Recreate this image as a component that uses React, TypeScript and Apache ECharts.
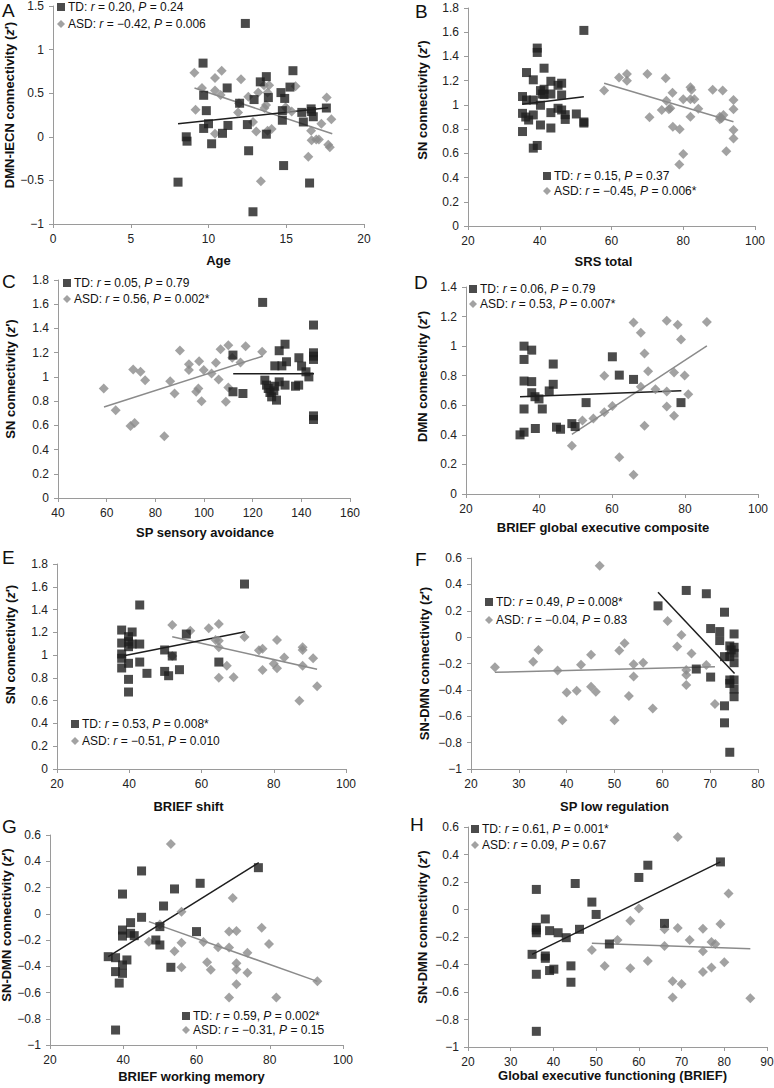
import React, { useEffect, useRef } from "react";
import * as echarts from "echarts";

const FONT = '"Liberation Sans", Arial, Helvetica, sans-serif';
const TD_COLOR = "#1e1e1e";
const ASD_COLOR = "#8b8b8b";
const AXIS_COLOR = "#9a9a9a";

// ---------- Panel A: Age vs DMN-IECN ----------
const A_TD = [[8.04,-0.52],[8.57,0.0],[8.62,-0.05],[9.65,0.845],[9.69,0.476],[9.86,0.30],[9.69,0.096],[10.0,0.15],[10.2,-0.08],[10.9,0.04],[11.25,0.13],[11.2,0.56],[12.0,0.385],[12.37,1.30],[12.5,0.14],[12.58,-0.16],[12.86,-0.86],[12.93,0.427],[13.33,0.63],[13.72,0.69],[13.85,0.45],[13.72,0.03],[14.66,0.507],[14.75,0.19],[14.9,0.44],[14.83,-0.33],[14.75,0.30],[15.24,0.57],[15.43,0.758],[16.0,0.28],[16.1,0.17],[16.6,0.32],[16.63,0.29],[16.74,0.23],[16.5,-0.53],[17.58,0.33]];
const A_ASD = [[9.09,0.735],[9.17,0.31],[9.58,0.56],[10.42,0.675],[10.42,0.53],[10.42,0.035],[10.78,0.48],[10.85,0.758],[11.96,0.385],[12.09,0.66],[11.9,0.28],[12.56,0.46],[12.86,0.17],[13.07,0.06],[13.2,0.507],[13.37,-0.51],[13.57,0.59],[13.6,0.33],[13.7,0.366],[13.8,0.507],[13.9,0.59],[13.8,0.07],[14.06,0.09],[14.96,0.34],[15.05,0.32],[15.35,0.29],[15.6,0.58],[16.42,-0.23],[16.6,0.07],[16.63,-0.04],[16.93,-0.03],[17.1,-0.03],[17.26,0.15],[17.6,0.45],[17.7,-0.09],[17.9,0.20],[17.8,-0.12]];
const A_TD_FIT = [[8.04,0.149],[17.7,0.332]];
const A_ASD_FIT = [[9.1,0.56],[17.96,0.035]];

// ---------- Panel B: SRS total vs SN ----------
const B_TD = [[35.2,1.069],[35.2,0.93],[35.2,0.78],[36.1,0.90],[36.3,1.04],[36.3,1.267],[36.9,0.875],[38.2,1.207],[38.2,1.04],[38.2,0.917],[38.2,0.643],[39.3,0.665],[39.3,1.469],[39.3,1.433],[40.2,1.118],[40.2,0.997],[40.2,0.834],[40.7,1.09],[41.2,1.303],[41.2,1.129],[41.2,1.085],[43.1,1.195],[43.1,1.09],[43.1,0.936],[43.1,0.809],[45.1,1.162],[45.1,0.972],[46.1,1.179],[46.1,1.082],[46.1,0.958],[47.1,0.919],[47.1,0.88],[50.2,0.925],[52.3,1.615],[52.3,0.859],[52.3,0.85]];
const B_ASD = [[57.95,1.118],[62.1,1.226],[64.3,1.256],[64.3,1.20],[70.0,1.256],[70.6,0.897],[74.0,0.958],[75.1,1.22],[75.3,1.035],[76.0,0.964],[76.4,0.972],[77.0,1.10],[77.1,0.82],[79.0,0.798],[78.9,0.508],[80.0,0.594],[80.0,1.046],[82.0,1.146],[82.3,1.124],[82.0,1.046],[83.1,1.046],[82.0,0.903],[84.2,0.969],[88.2,1.124],[91.0,1.118],[90.2,0.903],[90.7,0.889],[91.2,0.917],[90.2,0.881],[94.0,1.04],[94.0,0.964],[94.0,0.792],[94.0,0.723],[92.0,0.618]];
const B_TD_FIT = [[35.1,1.005],[52.3,1.068]];
const B_ASD_FIT = [[57.95,1.179],[94.0,0.861]];

// ---------- Panel C: SP sensory avoidance vs SN ----------
const C_TD = [[111.9,1.18],[111.9,0.877],[116.0,0.863],[124.1,1.615],[125.0,0.973],[125.7,0.932],[126.4,0.904],[127.1,0.871],[127.8,0.835],[128.7,0.885],[129.1,0.923],[129.1,1.091],[129.8,0.808],[130.9,1.216],[130.9,0.959],[132.0,1.091],[133.3,1.27],[133.3,0.932],[133.9,1.125],[137.6,0.923],[138.9,0.932],[139.0,1.158],[140.1,1.089],[141.9,1.042],[143.1,1.0],[145.0,1.428],[145.0,1.199],[145.0,1.171],[145.0,1.144],[145.0,0.678],[145.0,0.648]];
const C_ASD = [[58.8,0.904],[63.7,0.725],[69.8,0.595],[70.9,1.061],[71.5,0.62],[73.9,1.042],[75.8,0.973],[83.7,0.51],[86.1,0.965],[87.9,0.863],[90.1,1.218],[93.8,1.105],[93.8,1.056],[96.8,0.877],[97.7,0.904],[98.0,1.13],[99.0,0.799],[99.9,1.056],[103.1,1.028],[104.9,1.116],[106.0,0.978],[106.8,1.229],[110.0,1.262],[110.0,0.912],[109.0,0.794],[111.6,1.158],[115.0,1.119],[117.1,1.254],[123.9,1.207]];
const C_TD_FIT = [[112.0,1.025],[145.2,1.025]];
const C_ASD_FIT = [[58.9,0.752],[124.1,1.171]];

// ---------- Panel D: BRIEF GEC vs DMN ----------
const D_TD = [[34.8,0.40],[35.9,1.0],[35.9,0.91],[35.9,0.764],[35.9,0.575],[35.9,0.418],[38.0,0.973],[38.0,0.76],[38.0,0.685],[38.9,0.658],[39.0,0.443],[40.0,0.643],[40.9,0.575],[42.8,0.697],[43.9,0.879],[43.9,0.742],[44.8,0.452],[45.9,0.438],[49.0,0.476],[49.9,0.456],[52.9,0.618],[60.1,0.928],[62.0,0.804],[65.9,0.775],[78.9,0.618]];
const D_ASD = [[49.0,0.326],[51.9,0.497],[54.9,0.51],[57.9,0.553],[57.9,0.80],[60.1,0.596],[62.0,0.249],[65.9,1.16],[65.9,0.13],[67.9,1.09],[67.9,0.726],[68.9,0.951],[68.9,0.461],[69.9,0.831],[71.9,0.708],[75.0,1.171],[75.0,0.694],[75.0,0.591],[77.0,0.822],[77.0,0.53],[78.0,1.144],[78.9,1.045],[79.9,0.802],[80.9,0.674],[86.0,1.164]];
const D_TD_FIT = [[34.8,0.658],[79.0,0.699]];
const D_ASD_FIT = [[49.0,0.404],[86.0,1.002]];

// ---------- Panel E: BRIEF shift vs SN ----------
const E_TD = [[37.9,1.22],[37.9,1.106],[37.9,1.01],[37.9,0.972],[37.9,0.887],[39.8,1.162],[39.8,1.118],[39.8,1.074],[39.8,0.928],[39.8,0.787],[39.8,0.676],[40.8,1.203],[40.8,1.097],[42.9,1.44],[42.9,1.097],[42.9,0.939],[44.9,0.84],[49.8,1.045],[49.8,0.857],[50.9,0.819],[51.9,0.992],[53.9,0.872],[55.8,1.185],[64.8,0.939],[71.9,1.624]];
const E_ASD = [[51.9,1.264],[51.9,0.992],[56.9,1.215],[62.0,1.235],[63.9,1.133],[64.8,1.273],[64.8,1.127],[64.8,1.068],[64.8,0.802],[67.0,0.907],[68.9,0.805],[71.9,1.159],[75.9,1.042],[76.9,1.056],[76.9,0.869],[80.0,0.925],[80.9,0.884],[80.9,1.133],[82.9,0.98],[87.1,0.60],[88.0,1.068],[88.0,1.045],[88.0,0.907],[90.9,0.972],[92.0,0.726]];
const E_TD_FIT = [[38.5,0.995],[72.1,1.205]];
const E_ASD_FIT = [[51.9,1.162],[92.0,0.875]];

// ---------- Panel F: SP low regulation vs SN-DMN ----------
const F_TD = [[59.1,0.237],[65.0,0.354],[67.1,-0.242],[69.2,0.329],[70.1,0.065],[70.1,-0.303],[72.0,0.042],[72.0,-0.026],[73.0,0.189],[73.0,-0.148],[73.0,-0.521],[73.0,-0.65],[74.1,-0.067],[74.1,-0.148],[74.1,-0.325],[74.1,-0.351],[74.1,-0.873],[74.4,-0.097],[75.0,0.024],[75.0,-0.077],[75.0,-0.123],[75.0,-0.194],[75.0,-0.325],[75.0,-0.394],[75.0,-0.452]];
const F_ASD = [[25.0,-0.229],[33.0,-0.186],[34.1,-0.097],[38.1,-0.254],[39.1,-0.63],[40.0,-0.419],[42.1,-0.407],[43.0,-0.209],[45.1,-0.133],[45.1,-0.376],[46.1,-0.414],[46.9,0.542],[50.0,-0.63],[51.0,-0.102],[52.1,-0.047],[53.0,-0.447],[54.0,-0.206],[54.0,-0.298],[56.0,-0.194],[58.0,-0.541],[61.1,0.123],[63.1,-0.072],[64.0,0.017],[65.0,-0.249],[65.0,-0.287],[65.0,-0.363],[66.1,-0.125],[69.2,-0.211],[71.0,-0.508]];
const F_TD_FIT = [[59.1,0.341],[75.1,-0.275]];
const F_ASD_FIT = [[25.0,-0.267],[71.0,-0.224]];

// ---------- Panel G: BRIEF working memory vs SN-DMN ----------
const G_TD = [[35.9,-0.327],[37.9,-0.335],[37.9,-0.441],[37.9,-0.886],[38.9,-0.528],[39.8,0.15],[39.8,-0.124],[39.8,-0.17],[39.8,-0.39],[39.8,-0.454],[41.0,-0.352],[42.0,-0.068],[42.0,-0.149],[43.0,-0.167],[45.0,0.326],[45.0,-0.027],[48.9,-0.2],[50.0,-0.238],[50.0,-0.098],[51.0,0.059],[53.0,-0.408],[54.0,0.189],[60.0,-0.136],[61.0,0.232],[76.9,0.351]];
const G_ASD = [[47.0,-0.213],[50.0,-0.081],[53.0,0.531],[54.0,-0.286],[55.9,0.016],[55.9,-0.22],[55.9,-0.408],[61.9,-0.215],[62.9,-0.37],[63.9,-0.426],[65.9,-0.256],[68.9,-0.136],[68.9,-0.258],[68.9,-0.639],[69.9,0.12],[70.9,-0.131],[70.9,-0.378],[70.9,-0.424],[70.9,-0.538],[73.9,-0.297],[73.9,-0.449],[77.8,-0.106],[79.8,-0.23],[81.8,-0.639],[93.0,-0.515]];
const G_TD_FIT = [[35.9,-0.327],[77.0,0.389]];
const G_ASD_FIT = [[47.0,-0.06],[93.0,-0.515]];

// ---------- Panel H: BRIEF GEC vs SN-DMN ----------
const H_TD = [[35.0,-0.326],[36.0,0.146],[36.0,-0.13],[36.0,-0.149],[36.0,-0.169],[36.0,-0.471],[36.0,-0.886],[38.1,-0.069],[38.1,-0.338],[38.1,-0.355],[39.1,-0.154],[39.1,-0.444],[40.1,-0.434],[41.1,-0.169],[43.0,-0.205],[45.1,0.189],[44.1,-0.41],[44.1,-0.529],[46.1,-0.144],[49.0,0.054],[50.0,-0.036],[53.1,-0.251],[60.0,0.233],[62.1,0.322],[66.0,-0.101],[79.1,0.346]];
const H_ASD = [[49.0,-0.294],[52.0,-0.41],[55.0,-0.222],[58.0,-0.082],[58.0,-0.427],[60.0,0.008],[62.1,-0.374],[66.0,-0.144],[66.0,-0.265],[67.9,-0.521],[67.9,-0.64],[69.1,0.527],[69.1,-0.135],[70.0,-0.541],[71.9,-0.222],[75.0,-0.14],[75.0,-0.304],[75.0,-0.454],[77.0,-0.236],[77.0,-0.422],[77.9,-0.251],[79.1,-0.106],[80.0,-0.384],[81.0,0.117],[86.1,-0.645]];
const H_TD_FIT = [[35.0,-0.326],[79.1,0.346]];
const H_ASD_FIT = [[49.0,-0.246],[86.1,-0.285]];

// Labels
const LETTERS = ["A", "B", "C", "D", "E", "F", "G", "H"];
const TD_LABELS = [
  "TD: r = 0.20, P = 0.24",
  "TD: r = 0.15, P = 0.37",
  "TD: r = 0.05, P = 0.79",
  "TD: r = 0.06, P = 0.79",
  "TD: r = 0.53, P = 0.008*",
  "TD: r = 0.49, P = 0.008*",
  "TD: r = 0.59, P = 0.002*",
  "TD: r = 0.61, P = 0.001*",
];
const ASD_LABELS = [
  "ASD: r = \u22120.42, P = 0.006",
  "ASD: r = \u22120.45, P = 0.006*",
  "ASD: r = 0.56, P = 0.002*",
  "ASD: r = 0.53, P = 0.007*",
  "ASD: r = \u22120.51, P = 0.010",
  "ASD: r = \u22120.04, P = 0.83",
  "ASD: r = \u22120.31, P = 0.15",
  "ASD: r = 0.09, P = 0.67",
];
const X_NAMES = [
  "Age",
  "SRS total",
  "SP sensory avoidance",
  "BRIEF global executive composite",
  "BRIEF shift",
  "SP low regulation",
  "BRIEF working memory",
  "Global executive functioning (BRIEF)",
];
const Y_NAMES = [
  "DMN-IECN connectivity ({i|z}\u2032)",
  "SN connectivity ({i|z}\u2032)",
  "SN connectivity ({i|z}\u2032)",
  "DMN connectivity ({i|z}\u2032)",
  "SN connectivity ({i|z}\u2032)",
  "SN-DMN connectivity ({i|z}\u2032)",
  "SN-DMN connectivity ({i|z}\u2032)",
  "SN-DMN connectivity ({i|z}\u2032)",
];
// axis ranges: [min, max, interval]
const X_RANGES = [[0,20,5],[20,100,20],[40,160,20],[20,100,20],[20,100,20],[20,80,10],[20,100,20],[20,90,10]];
const Y_RANGES = [[-1,1.5,0.5],[0,1.8,0.2],[0,1.8,0.2],[0,1.4,0.2],[0,1.8,0.2],[-1,0.6,0.2],[-1,0.6,0.2],[-1,0.6,0.2]];

const TD_DATA = [A_TD, B_TD, C_TD, D_TD, E_TD, F_TD, G_TD, H_TD];
const ASD_DATA = [A_ASD, B_ASD, C_ASD, D_ASD, E_ASD, F_ASD, G_ASD, H_ASD];
const TD_FITS = [A_TD_FIT, B_TD_FIT, C_TD_FIT, D_TD_FIT, E_TD_FIT, F_TD_FIT, G_TD_FIT, H_TD_FIT];
const ASD_FITS = [A_ASD_FIT, B_ASD_FIT, C_ASD_FIT, D_ASD_FIT, E_ASD_FIT, F_ASD_FIT, G_ASD_FIT, H_ASD_FIT];

// Layout (pixels)
const GRIDS = [
  { left: 53, top: 6, width: 311, height: 218 },
  { left: 468, top: 8, width: 287, height: 218 },
  { left: 58, top: 280, width: 292, height: 218 },
  { left: 466, top: 287, width: 292, height: 207 },
  { left: 57, top: 564, width: 289, height: 205 },
  { left: 471, top: 558, width: 287, height: 211 },
  { left: 50, top: 835, width: 293, height: 210 },
  { left: 468, top: 827, width: 299, height: 220 },
];
const X_NAME_GAPS = [30, 29, 28, 27, 31, 31, 25, 18];
const Y_NAME_GAPS = [36, 39, 41, 37, 40, 40, 33, 39];
// offsets of axis titles from the axis middle (x: to the right, y: upward)
const X_NAME_SHIFT = [10, -8, 1, -9, -13, 0, -5, -5];
const Y_NAME_SHIFT = [10, 17, 10, 14, 22, 0, 15, 10];
// legend: [markerCenterX, firstMarkerCenterY, lineSpacing]
const LEGENDS = [
  [61, 7, 17],
  [547, 176, 15],
  [67, 283, 16],
  [473, 289, 15],
  [75, 724, 17],
  [489, 602, 18],
  [186, 1016, 14],
  [475, 829, 16],
];
const LETTER_POS = [[2, 1], [415, 2], [2, 272], [414, 273], [2, 548], [415, 550], [2, 817], [410, 815]];

function fmtTick(v: number) {
  const s = String(Math.round(v * 10) / 10);
  return s.replace("-", "\u2212");
}

function shiftPad(s: number) {
  // padding [top, right, bottom, left] in the text's own frame
  return s >= 0 ? [0, 0, 0, 2 * s] : [0, -2 * s, 0, 0];
}

function buildOption() {
  const grid: any[] = [];
  const xAxis: any[] = [];
  const yAxis: any[] = [];
  const series: any[] = [];
  const legend: any[] = [];
  const graphic: any[] = [];
  for (let i = 0; i < 8; i++) {
    grid.push({ ...GRIDS[i], containLabel: false, outerBoundsMode: "none" });
    const nameStyle = (pad: number[]) => ({
      fontFamily: FONT,
      fontSize: 13,
      fontWeight: "bold",
      color: "#111",
      padding: pad,
      rich: { i: { fontFamily: FONT, fontSize: 13, fontWeight: "bold", fontStyle: "italic", color: "#111" } },
    });
    const axisCommon = {
      axisLine: { show: true, onZero: false, lineStyle: { color: AXIS_COLOR, width: 1 } },
      axisTick: { show: true, length: 4, lineStyle: { color: AXIS_COLOR } },
      splitLine: { show: false },
      nameLocation: "middle",
    };
    xAxis.push({
      ...axisCommon,
      type: "value",
      gridIndex: i,
      min: X_RANGES[i][0],
      max: X_RANGES[i][1],
      interval: X_RANGES[i][2],
      name: X_NAMES[i],
      nameGap: X_NAME_GAPS[i],
      nameTextStyle: nameStyle(shiftPad(X_NAME_SHIFT[i])),
      axisLabel: { fontFamily: FONT, fontSize: 12, color: "#222", margin: 9, formatter: fmtTick },
    });
    yAxis.push({
      ...axisCommon,
      type: "value",
      gridIndex: i,
      min: Y_RANGES[i][0],
      max: Y_RANGES[i][1],
      interval: Y_RANGES[i][2],
      name: Y_NAMES[i],
      nameGap: Y_NAME_GAPS[i],
      nameRotate: 90,
      nameTextStyle: nameStyle(shiftPad(Y_NAME_SHIFT[i])),
      axisLabel: { fontFamily: FONT, fontSize: 12, color: "#222", margin: 9, formatter: fmtTick },
    });
    series.push({
      type: "line",
      xAxisIndex: i,
      yAxisIndex: i,
      data: ASD_FITS[i],
      symbol: "none",
      silent: true,
      lineStyle: { color: ASD_COLOR, width: 1.5 },
      z: 1,
    });
    series.push({
      type: "line",
      xAxisIndex: i,
      yAxisIndex: i,
      data: TD_FITS[i],
      symbol: "none",
      silent: true,
      lineStyle: { color: TD_COLOR, width: 1.5 },
      z: 1,
    });
    series.push({
      type: "scatter",
      name: ASD_LABELS[i],
      xAxisIndex: i,
      yAxisIndex: i,
      data: ASD_DATA[i],
      symbol: "diamond",
      symbolSize: 10,
      itemStyle: { color: ASD_COLOR },
      z: 2,
    });
    series.push({
      type: "scatter",
      name: TD_LABELS[i],
      xAxisIndex: i,
      yAxisIndex: i,
      data: TD_DATA[i],
      symbol: "rect",
      symbolSize: 9,
      itemStyle: { color: TD_COLOR },
      z: 3,
    });
    const [lx, ly, sp] = LEGENDS[i];
    legend.push({
      orient: "vertical",
      left: lx - 4,
      top: ly - 7,
      padding: 0,
      itemGap: sp - 14,
      itemWidth: 8,
      itemHeight: 8,
      selectedMode: false,
      data: [
        { name: TD_LABELS[i], icon: "rect" },
        { name: ASD_LABELS[i], icon: "diamond" },
      ],
      formatter: (name: string) => name.replace(/\br =/, "{i|r} =").replace(/P =/, "{i|P} ="),
      textStyle: {
        fontFamily: FONT,
        fontSize: 12,
        color: "#111",
        lineHeight: 14,
        padding: [0, 0, 0, -2],
        rich: { i: { fontFamily: FONT, fontSize: 12, fontStyle: "italic", color: "#111", lineHeight: 14 } },
      },
    });
    graphic.push({
      type: "text",
      left: LETTER_POS[i][0],
      top: LETTER_POS[i][1],
      style: { text: LETTERS[i], fontFamily: FONT, fontSize: 19, fill: "#111" },
    });
  }
  return { animation: false, backgroundColor: "#fff", grid, xAxis, yAxis, series, legend, graphic };
}

export default function App() {
  const ref = useRef<HTMLDivElement>(null);
  useEffect(() => {
    if (!ref.current) return;
    const chart = echarts.init(ref.current, null, { renderer: "svg" });
    chart.setOption(buildOption() as any);
    return () => chart.dispose();
  }, []);
  return (
    <div
      ref={ref}
      style={{ position: "absolute", left: 0, top: 0, width: 774, height: 1088, background: "#fff" }}
    />
  );
}
